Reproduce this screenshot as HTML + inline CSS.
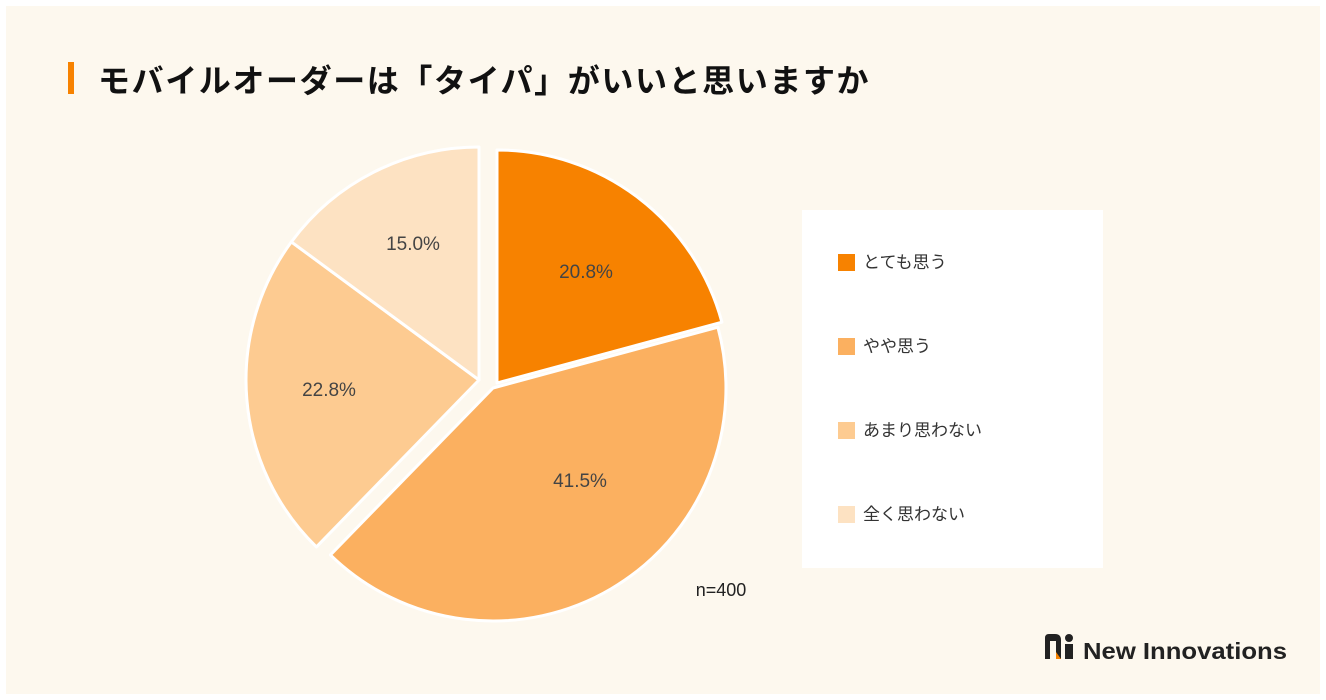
<!DOCTYPE html>
<html><head><meta charset="utf-8"><style>
body{margin:0;width:1326px;height:700px;background:#fff;overflow:hidden;font-family:"Liberation Sans","Noto Sans CJK JP",sans-serif}
.bg{position:absolute;left:6px;top:6px;width:1314px;height:688px;background:#fdf8ee}
.t{position:absolute;left:98px;top:56px;font-size:32px;font-weight:bold;color:#111;letter-spacing:1.6px}
.bar{position:absolute;left:68px;top:62px;width:6px;height:32px;background:#f78200}
.leg{position:absolute;left:802px;top:210px;width:301px;height:358px;background:#fff}
.li{position:absolute;left:36px;font-size:17px;color:#333}
.li i{display:inline-block;width:17px;height:17px;vertical-align:-3px;margin-right:8px}
</style></head><body>
<div class="bg"></div>
<div class="bar"></div>
<div class="t">モバイルオーダーは「タイパ」がいいと思いますか</div>
<svg width="1326" height="700" style="position:absolute;left:0;top:0">
<g stroke="#fff" stroke-width="3" stroke-linejoin="round">
<path d="M497,383 L497,150 A233,233 0 0 1 721.9,322.2 Z" fill="#f78200"/>
<path d="M493,388 L717.9,327.2 A233,233 0 0 1 330.4,554.9 Z" fill="#fbb060"/>
<path d="M479,380 L316.4,546.9 A233,233 0 0 1 291.4,241.9 Z" fill="#fdcb91"/>
<path d="M479,380 L291.4,241.9 A233,233 0 0 1 479,147 Z" fill="#fde2c2"/>
</g>
<g font-family="Liberation Sans, sans-serif" font-size="19" fill="#444" text-anchor="middle">
<text x="586" y="278">20.8%</text>
<text x="580" y="487">41.5%</text>
<text x="329" y="396">22.8%</text>
<text x="413" y="250">15.0%</text>
<text x="721" y="596" font-size="18" fill="#222">n=400</text>
</g>
<g transform="translate(1045,634)">
<path d="M0,4 Q0,0 4,0 L10,0 Q16,0 16,6 L16,25 L11,25 L11,7 L5,7 L5,25 L0,25 Z" fill="#222"/>
<circle cx="24" cy="4" r="4" fill="#222"/><rect x="20" y="10" width="8" height="15" fill="#222"/>
<path d="M11,18 L16,25 L11,25 Z" fill="#f78200"/>
<text x="38" y="25" font-family="Liberation Sans, sans-serif" font-size="23" font-weight="bold" fill="#222" textLength="204" lengthAdjust="spacingAndGlyphs">New Innovations</text>
</g>
</svg>
<div class="leg">
<div class="li" style="top:38px"><i style="background:#f78200"></i>とても思う</div>
<div class="li" style="top:122px"><i style="background:#fbb060"></i>やや思う</div>
<div class="li" style="top:206px"><i style="background:#fdcb91"></i>あまり思わない</div>
<div class="li" style="top:290px"><i style="background:#fde2c2"></i>全く思わない</div>
</div>
</body></html>
